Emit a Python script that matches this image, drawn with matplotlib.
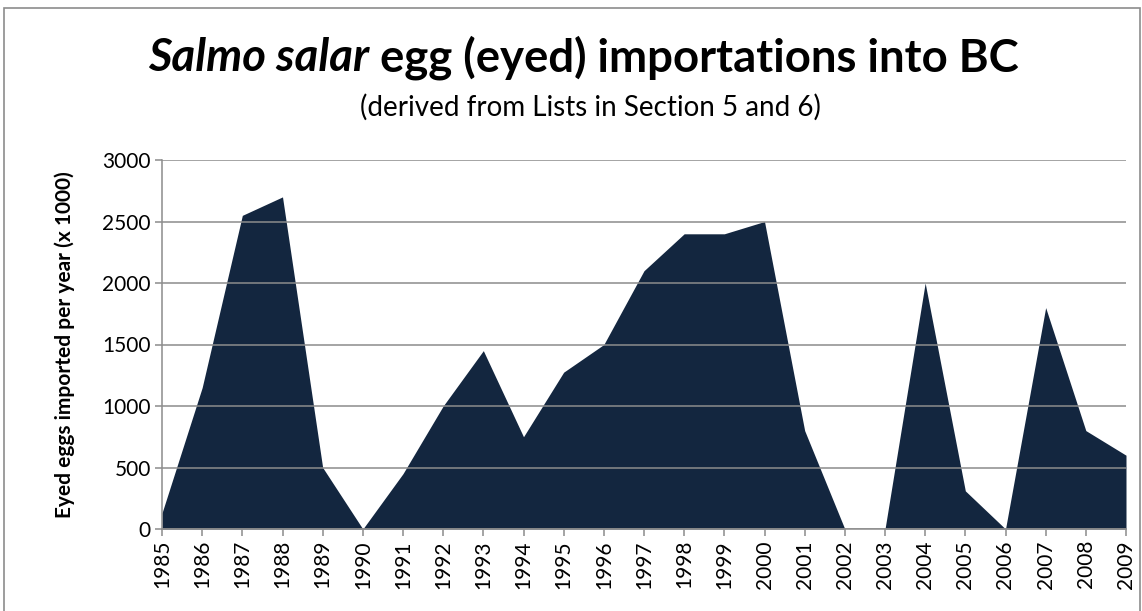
import matplotlib.pyplot as plt
from matplotlib.patches import Rectangle

years = list(range(1985, 2010))
eggs = [130, 1150, 2550, 2700, 500, 0, 450, 1000, 1450, 750, 1275, 1500, 2100,
        2400, 2400, 2500, 800, 0, 0, 2000, 310, 0, 1800, 800, 600]
y_ticks = [0, 500, 1000, 1500, 2000, 2500, 3000]

FONT = ["Lato", "DejaVu Sans"]
plt.rcParams["font.family"] = FONT

W, H = 1142, 611
fig = plt.figure(figsize=(W / 100, H / 100), dpi=100)
fig.patch.set_facecolor("white")

# chart-area border
fig.add_artist(Rectangle((4 / W, -0.05), 1136 / W, 1.05 - 8 / H, transform=fig.transFigure,
                         fill=False, edgecolor="#8c8c8c", linewidth=1.2))

ax = fig.add_axes([162 / W, 1 - 529 / H, (1126 - 162) / W, (529 - 160) / H])
ax.fill_between(years, eggs, 0, color="#13263f", linewidth=0)
ax.set_xlim(years[0], years[-1])
ax.set_ylim(0, 3000)
ax.set_xticks(years)
ax.set_xticklabels([str(y) for y in years], rotation=90, fontsize=15)
ax.set_yticks(y_ticks)
ax.set_yticklabels([str(v) for v in y_ticks], fontsize=15)
ax.grid(axis="y", color="#8c8c8c", linewidth=1.1)
ax.set_axisbelow(False)
for side in ("top", "right"):
    ax.spines[side].set_visible(False)
for side in ("left", "bottom"):
    ax.spines[side].set_color("#8c8c8c")
    ax.spines[side].set_linewidth(1.1)
ax.tick_params(axis="both", direction="out", length=5, color="#8c8c8c", width=1.1, pad=3)

fig.text(65 / W, 1 - 345 / H, "Eyed eggs imported per year (x 1000)", fontsize=15,
         fontweight="bold", rotation=90, ha="center", va="center")

# title in two styles: italic species name + bold rest
fig.canvas.draw()
r = fig.canvas.get_renderer()
ty = 1 - 58 / H
t1 = fig.text(0, ty, "Salmo salar", fontsize=32.8, fontweight="bold", style="italic", va="center")
t2 = fig.text(0, ty, " egg (eyed) importations into BC", fontsize=32.8, fontweight="bold", va="center")
w1 = t1.get_window_extent(r).width
w2 = t2.get_window_extent(r).width
x0 = 583 - (w1 + w2) / 2
t1.set_x(x0 / W)
t2.set_x((x0 + w1) / W)

fig.text(590 / W, 1 - 107 / H, "(derived from Lists in Section 5 and 6)", fontsize=20,
         ha="center", va="center")

fig.savefig("out.png", dpi=100, facecolor=fig.get_facecolor())
